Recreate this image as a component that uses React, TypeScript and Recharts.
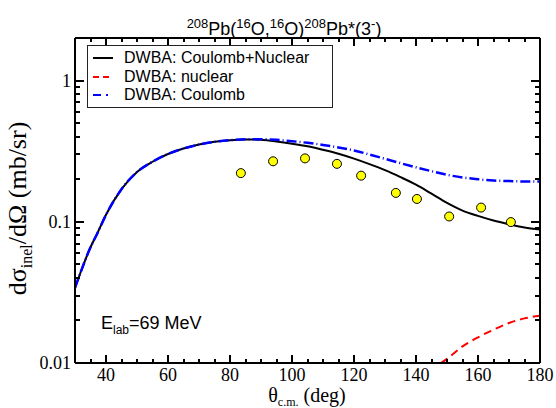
import React from 'react';
import { ComposedChart, Line, Scatter, XAxis, YAxis } from 'recharts';

// angle grid for the DWBA curves (deg, c.m.)
const curveTheta = [30, 32, 35, 37, 40, 45, 50, 55, 60, 65, 70, 75, 80, 85, 90, 95, 100, 105, 110, 115, 120, 125, 130, 135, 140, 145, 150, 155, 160, 165, 170, 175, 180];
const coulNuc = [0.034, 0.045, 0.066, 0.081, 0.112, 0.17, 0.225, 0.266, 0.302, 0.33, 0.352, 0.368, 0.378, 0.383, 0.38, 0.37, 0.357, 0.342, 0.323, 0.303, 0.28, 0.256, 0.232, 0.207, 0.183, 0.158, 0.136, 0.12, 0.11, 0.102, 0.096, 0.091, 0.088];
const coulomb = [0.034, 0.045, 0.066, 0.081, 0.112, 0.17, 0.225, 0.266, 0.302, 0.33, 0.352, 0.368, 0.378, 0.384, 0.384, 0.38, 0.372, 0.362, 0.35, 0.336, 0.32, 0.299, 0.279, 0.26, 0.243, 0.228, 0.215, 0.206, 0.2, 0.196, 0.194, 0.193, 0.193];

// nuclear-only curve, only visible above 0.01
const nucTheta = [148, 150, 155, 160, 165, 170, 175, 180];
const nuclear = [0.01, 0.0107, 0.0131, 0.0152, 0.0172, 0.0192, 0.0207, 0.0216];

// measured points
const expTheta = [83.5, 93.9, 104.2, 114.5, 122.3, 133.5, 140.3, 150.7, 161.0, 170.6];
const expValue = [0.221, 0.268, 0.281, 0.257, 0.212, 0.16, 0.145, 0.109, 0.126, 0.0995];

const xTicks = [35, 40, 45, 50, 55, 60, 65, 70, 75, 80, 85, 90, 95, 100, 105, 110, 115, 120, 125, 130, 135, 140, 145, 150, 155, 160, 165, 170, 175, 180];
const yTicks = [0.01, 0.02, 0.03, 0.04, 0.05, 0.06, 0.07, 0.08, 0.09, 0.1, 0.2, 0.3, 0.4, 0.5, 0.6, 0.7, 0.8, 0.9, 1, 2];
const yLabels: Record<string, string> = { '0.01': '0.01', '0.1': '0.1', '1': '1' };

const X_DOMAIN: [number, number] = [30, 180];
const Y_DOMAIN: [number, number] = [0.01, 2];

const W = 556;
const H = 408;
const M = { top: 8, right: 0, left: 0, bottom: 0 };

const SERIF = '"Liberation Serif", "Times New Roman", serif';
const SANS = '"Liberation Sans", Arial, sans-serif';
const FRAME = { stroke: '#000', strokeWidth: 2 };

const toRows = (xs: number[], ys: number[]) => xs.map((t, i) => ({ theta: t, value: ys[i] }));

const isMajorX = (v: number) => v % 20 === 0;
const isMajorY = (v: number) => {
  const lg = Math.log10(v);
  return Math.abs(lg - Math.round(lg)) < 1e-6;
};

// tick marks as scatter points sitting on the frame, drawn inward
const bottomTicks = xTicks.map((t) => ({ theta: t, value: Y_DOMAIN[0], major: isMajorX(t) }));
const topTicks = xTicks.map((t) => ({ theta: t, value: Y_DOMAIN[1], major: isMajorX(t) }));
const leftTicks = yTicks.map((v) => ({ theta: X_DOMAIN[0], value: v, major: isMajorY(v) }));
const rightTicks = yTicks.map((v) => ({ theta: X_DOMAIN[1], value: v, major: isMajorY(v) }));

const makeTick = (dx: number, dy: number, majorLen: number, minorLen: number) => (props: any) => {
  const { cx, cy, payload } = props;
  const len = payload && payload.major ? majorLen : minorLen;
  const x0 = Math.round(cx);
  const y0 = Math.round(cy);
  return (
    <path
      d={`M${x0},${y0}L${x0 + dx * len},${y0 + dy * len}`}
      stroke="#000"
      strokeWidth={2}
      fill="none"
      shapeRendering="crispEdges"
    />
  );
};
const TickUp = makeTick(0, -1, 8, 4);
const TickDown = makeTick(0, 1, 8, 4);
const TickRight = makeTick(1, 0, 9, 5);
const TickLeft = makeTick(-1, 0, 9, 5);

const XTickLabel = (props: any) => {
  const { x, y, payload } = props;
  const v = payload.value;
  if (!isMajorX(v)) return <g />;
  return <text x={x} y={y + 18} textAnchor="middle" fontFamily={SERIF} fontSize={18} fill="#000">{v}</text>;
};

const YTickLabel = (props: any) => {
  const { x, y, payload } = props;
  const label = yLabels[String(payload.value)];
  if (!label) return <g />;
  return <text x={x - 4} y={y + 6} textAnchor="end" fontFamily={SERIF} fontSize={18} fill="#000">{label}</text>;
};

const Dot = (props: any) => {
  const { cx, cy } = props;
  return <circle cx={cx} cy={cy} r={4.5} fill="#ffff00" stroke="#000" strokeWidth={1} />;
};

const LEGEND = [
  { label: 'DWBA: Coulomb+Nuclear', color: '#000', dash: undefined },
  { label: 'DWBA: nuclear', color: '#ff0000', dash: '6 4' },
  { label: 'DWBA: Coulomb', color: '#0000ff', dash: '8 5 2 5' },
];

const sup = { fontSize: 13, position: 'relative' as const, top: -7 };

export default function App() {
  const axisCommon = {
    interval: 0 as const,
    tickSize: 0,
    tickMargin: 0,
    tickLine: false,
    axisLine: FRAME,
    allowDataOverflow: true,
  };
  return (
    <div style={{ position: 'absolute', left: 0, top: 0, width: W, height: H, background: '#fff' }}>
      <ComposedChart width={W} height={H} margin={M}>
        <XAxis {...axisCommon} dataKey="theta" type="number" domain={X_DOMAIN} ticks={xTicks} height={45} tick={<XTickLabel />} />
        <XAxis {...axisCommon} xAxisId="top" orientation="top" type="number" domain={X_DOMAIN} ticks={xTicks} height={30} tick={false} />
        <YAxis {...axisCommon} type="number" scale="log" domain={Y_DOMAIN} ticks={yTicks} width={75} tick={<YTickLabel />} />
        <YAxis {...axisCommon} yAxisId="right" orientation="right" type="number" scale="log" domain={Y_DOMAIN} ticks={yTicks} width={16} tick={false} />
        <Scatter data={bottomTicks} dataKey="value" shape={TickUp} isAnimationActive={false} />
        <Scatter data={topTicks} dataKey="value" shape={TickDown} isAnimationActive={false} />
        <Scatter data={leftTicks} dataKey="value" shape={TickRight} isAnimationActive={false} />
        <Scatter data={rightTicks} dataKey="value" shape={TickLeft} isAnimationActive={false} />
        <Line data={toRows(curveTheta, coulNuc)} dataKey="value" type="monotone" stroke="#000" strokeWidth={2} dot={false} isAnimationActive={false} />
        <Line data={toRows(nucTheta, nuclear)} dataKey="value" type="monotone" stroke="#ff0000" strokeWidth={2} strokeDasharray="8 5" dot={false} isAnimationActive={false} />
        <Line data={toRows(curveTheta, coulomb)} dataKey="value" type="monotone" stroke="#0000ff" strokeWidth={2.5} strokeDasharray="10 3 1 3" dot={false} isAnimationActive={false} />
        <Scatter data={toRows(expTheta, expValue)} dataKey="value" shape={<Dot />} isAnimationActive={false} />
      </ComposedChart>

      {/* title */}
      <div style={{ position: 'absolute', left: 0, top: 19, width: 568, textAlign: 'center', fontFamily: SANS, fontSize: 18, lineHeight: '20px', color: '#000' }}>
        <span style={sup}>208</span>Pb(<span style={sup}>16</span>O,<span style={sup}>16</span>O)<span style={sup}>208</span>Pb*(3<span style={sup}>-</span>)
      </div>

      {/* legend */}
      <div style={{ position: 'absolute', left: 87, top: 45, width: 244, height: 61, border: '1.3px solid #222', background: '#fff', fontFamily: SANS, fontSize: 16, color: '#000', boxSizing: 'content-box' }}>
        {LEGEND.map((e, i) => (
          <div key={i} style={{ position: 'absolute', left: 3, top: 3 + i * 18.5, height: 18, display: 'flex', alignItems: 'center' }}>
            <svg width={24} height={18} style={{ marginRight: 9 }}>
              <line x1={2} x2={22} y1={9} y2={9} stroke={e.color} strokeWidth={2} strokeDasharray={e.dash} />
            </svg>
            <span style={{ lineHeight: '18px' }}>{e.label}</span>
          </div>
        ))}
      </div>

      {/* energy note */}
      <div style={{ position: 'absolute', left: 101, top: 313, fontFamily: SANS, fontSize: 18, lineHeight: '20px', color: '#000', whiteSpace: 'nowrap' }}>
        E<span style={{ fontSize: 12, position: 'relative', top: 5 }}>lab</span>=69 MeV
      </div>

      {/* x label */}
      <div style={{ position: 'absolute', left: 207, top: 385, width: 200, textAlign: 'center', fontFamily: SERIF, fontSize: 20, lineHeight: '20px', color: '#000', whiteSpace: 'nowrap' }}>
        θ<span style={{ fontSize: 12, position: 'relative', top: 4 }}>c.m.</span> (deg)
      </div>

      {/* y label */}
      <div style={{ position: 'absolute', left: 19, top: 207, width: 0, height: 0 }}>
        <div style={{ position: 'absolute', left: -130, top: -13, width: 260, textAlign: 'center', transform: 'rotate(-90deg)', fontFamily: SERIF, fontSize: 26, lineHeight: '26px', color: '#000', whiteSpace: 'nowrap' }}>
          dσ<span style={{ fontSize: 16, position: 'relative', top: 6 }}>inel</span>/dΩ (mb/sr)
        </div>
      </div>
    </div>
  );
}
